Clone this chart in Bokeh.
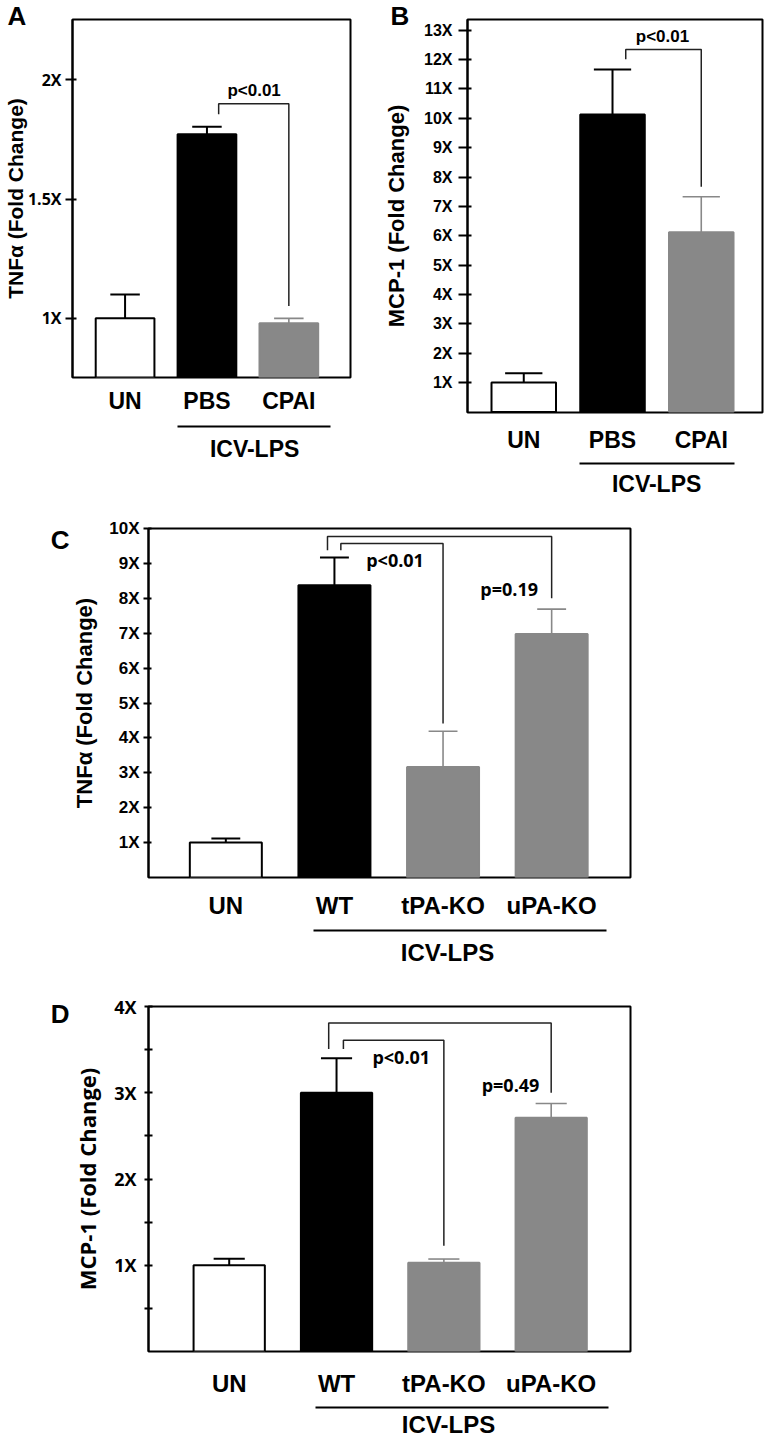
from bokeh.plotting import figure
from bokeh.models import Range1d, FixedTicker, LinearAxis, Title
from bokeh.layouts import column, row
from bokeh.embed import file_html
from bokeh.resources import INLINE
from bokeh.core.properties import value

ARIAL = "Liberation Sans"
HUM = "Open Sans"

# ---------------- data ----------------
# Panel A : TNFa fold change
a_categories = ["UN", "PBS", "CPAI"]
a_values = [1.0, 1.772, 0.979]
a_err_top = [1.10, 1.803, 1.0]
a_yticks = [1, 1.5, 2]
a_ytick_labels = ["1X", "1.5X", "2X"]
a_comparisons = [(2, 3)]                       # bar index pairs (1-based)
a_bracket_levels = [(1.90, 1.856, 1.052)]      # top, left leg end, right leg end
a_pvalues = ["p<0.01"]
a_pvalue_pos = [(2.576, 1.954)]

# Panel B : MCP-1 fold change
b_categories = ["UN", "PBS", "CPAI"]
b_values = [1.0, 10.13, 6.12]
b_err_top = [1.32, 11.66, 7.33]
b_yticks = list(range(1, 14))
b_ytick_labels = ["%dX" % t for t in b_yticks]
b_comparisons = [(2, 3)]
b_bracket_levels = [(12.34, 12.01, 7.67)]
b_pvalues = ["p<0.01"]
b_pvalue_pos = [(2.563, 12.80)]

# Panel C : TNFa fold change, knockouts
c_categories = ["UN", "WT", "tPA-KO", "uPA-KO"]
c_values = [1.0, 8.375, 3.165, 6.975]
c_err_top = [1.12, 9.17, 4.19, 7.69]
c_yticks = list(range(1, 11))
c_ytick_labels = ["%dX" % t for t in c_yticks]
c_comparisons = [(2, 4), (2, 3)]
c_bracket_levels = [(9.77, 9.38, 8.0), (9.57, 9.38, 4.41)]
c_pvalues = ["p<0.01", "p=0.19"]
c_pvalue_pos = [(2.558, 9.09), (3.609, 8.27)]

# Panel D : MCP-1 fold change, knockouts
d_categories = ["UN", "WT", "tPA-KO", "uPA-KO"]
d_values = [1.0, 3.0, 1.03, 2.71]
d_err_top = [1.075, 3.40, 1.072, 2.876]
d_yticks = [0.5, 1, 1.5, 2, 2.5, 3, 3.5, 4]
d_ytick_labels = ["", "1X", "", "2X", "", "3X", "", "4X"]
d_comparisons = [(2, 4), (2, 3)]
d_bracket_levels = [(3.81, 3.506, 3.0), (3.61, 3.506, 1.225)]
d_pvalues = ["p<0.01", "p=0.49"]
d_pvalue_pos = [(2.603, 3.417), (3.621, 3.092)]

GROUP_LABEL = "ICV-LPS"
GRAY = "#888888"


def build(d):
    n = len(d["cats"])
    xs = list(range(1, n + 1))
    p = figure(width=d["W"], height=d["H"],
               x_range=Range1d(*d["xr"]), y_range=Range1d(*d["yr"]),
               output_backend="svg", toolbar_location=None,
               min_border_left=d["mb"][0], min_border_right=d["mb"][1],
               min_border_top=d["mb"][2], min_border_bottom=d["mb"][3])
    p.grid.visible = False
    p.background_fill_color = "white"
    p.border_fill_color = "white"
    p.outline_line_color = "black"
    p.outline_line_width = 2
    p.outline_line_alpha = 1

    fills = ["white", "black"] + [GRAY] * (n - 2)
    lines = ["black", "black"] + [GRAY] * (n - 2)
    ecol = ["black", "black"] + [GRAY] * (n - 2)
    ewid = [2, 2] + [1.6] * (n - 2)

    p.vbar(x=xs, top=d["vals"], bottom=0, width=d["bw"],
           fill_color=fills, line_color=lines, line_width=2)
    # error bars
    p.segment(x0=xs, y0=d["vals"], x1=xs, y1=d["errs"], line_color=ecol, line_width=ewid)
    h = d["cap"]
    p.segment(x0=[x - h for x in xs], y0=d["errs"], x1=[x + h for x in xs], y1=d["errs"],
              line_color=ecol, line_width=ewid)
    # significance brackets
    bx, by = [], []
    for (i, j), (top, lb, rb), dx in zip(d["cmp"], d["lev"], d["bdx"]):
        xl = xs[i - 1] + dx
        xr = xs[j - 1]
        bx.append([xl, xl, xr, xr])
        by.append([lb, top, top, rb])
    p.multi_line(xs=bx, ys=by, line_color="#222222", line_width=1.5)
    p.text(x=[q[0] for q in d["ppos"]], y=[q[1] for q in d["ppos"]], text=d["pv"],
           text_font=value(d["pfont"]), text_font_size=value(d["psize"]),
           text_font_style="bold", text_align="center", text_baseline="middle",
           text_color="black")

    # y axis
    ya = p.yaxis[0]
    ya.ticker = FixedTicker(ticks=d["yt"])
    ya.major_label_overrides = dict(zip(d["yt"], d["ytl"]))
    ya.minor_tick_line_color = None
    ya.major_tick_in = d["tin"]
    ya.major_tick_out = d["tout"]
    ya.major_tick_line_width = 2
    ya.major_tick_line_color = "black"
    ya.axis_line_width = 2
    ya.axis_line_color = "black"
    ya.major_label_text_font = d["tfont"]
    ya.major_label_text_font_size = d["tsize"]
    ya.major_label_text_font_style = "bold"
    ya.major_label_text_color = "black"
    ya.major_label_standoff = d["tstand"]
    ya.axis_label = d["ytitle"]
    ya.axis_label_text_font = d["yfont"]
    ya.axis_label_text_font_size = d["ysize"]
    ya.axis_label_text_font_style = "bold"
    ya.axis_label_text_color = "black"
    ya.axis_label_standoff = d["ystand"]

    # x axis (category labels)
    xa = p.xaxis[0]
    xa.ticker = FixedTicker(ticks=xs)
    xa.major_label_overrides = dict(zip(xs, d["cats"]))
    xa.major_tick_line_color = None
    xa.minor_tick_line_color = None
    xa.major_tick_in = 0
    xa.major_tick_out = 0
    xa.axis_line_color = None
    xa.major_label_text_font = ARIAL
    xa.major_label_text_font_size = d["csize"]
    xa.major_label_text_font_style = "bold"
    xa.major_label_text_color = "black"
    xa.major_label_standoff = d["cstand"]
    xa.axis_label = " "
    xa.axis_label_text_font_size = "2px"
    xa.axis_label_standoff = d["pad"]

    # group underline + group label
    gx = d["gx"]
    ax2 = LinearAxis(ticker=FixedTicker(ticks=[gx]), bounds=d["under"],
                     major_label_overrides={gx: GROUP_LABEL},
                     axis_line_width=2, axis_line_color="black",
                     major_tick_line_color=None, minor_tick_line_color=None,
                     major_tick_in=0, major_tick_out=0,
                     major_label_standoff=d["gstand"],
                     major_label_text_font=ARIAL,
                     major_label_text_font_size=d["csize"],
                     major_label_text_font_style="bold",
                     major_label_text_color="black")
    p.add_layout(ax2, "below")

    # panel letter
    if d["letter_mode"] == "title":
        p.title = Title(text=d["letter"], align="left", offset=d["loff"],
                        standoff=-22, vertical_align="bottom",
                        text_font=ARIAL, text_font_size="26px",
                        text_font_style="bold", text_color="black")
    else:
        ly = d["ly"]
        lax = LinearAxis(ticker=FixedTicker(ticks=[ly]),
                         major_label_overrides={ly: d["letter"]},
                         axis_line_color=None, major_tick_line_color=None,
                         minor_tick_line_color=None, major_tick_in=0, major_tick_out=0,
                         major_label_standoff=0,
                         major_label_text_font=ARIAL, major_label_text_font_size="26px",
                         major_label_text_font_style="bold",
                         major_label_text_color="black")
        p.add_layout(lax, "left")
    return p


pA = build(dict(cats=a_categories, vals=a_values, errs=a_err_top, yt=a_yticks, ytl=a_ytick_labels,
                cmp=a_comparisons, lev=a_bracket_levels, pv=a_pvalues, ppos=a_pvalue_pos,
                W=372, H=466, xr=(0.358, 3.753), yr=(0.752, 2.253), mb=(66, 22, 19, 89),
                bw=0.717, cap=0.18, bdx=[0.143],
                pfont=ARIAL, psize="17px",
                tin=4, tout=7, tfont=HUM, tsize="16px", tstand=4,
                ytitle="TNFα (Fold Change)", yfont=ARIAL, ysize="21px", ystand=-2,
                csize="23px", cstand=10, pad=5,
                under=(1.646, 3.506), gx=2.582, gstand=9,
                letter_mode="title", letter="A", loff=-65))

pB = build(dict(cats=b_categories, vals=b_values, errs=b_err_top, yt=b_yticks, ytl=b_ytick_labels,
                cmp=b_comparisons, lev=b_bracket_levels, pv=b_pvalues, ppos=b_pvalue_pos,
                W=394, H=501, xr=(0.366, 3.690), yr=(-0.02, 13.364), mb=(95, 4, 19, 89),
                bw=0.727, cap=0.21, bdx=[0.149],
                pfont=ARIAL, psize="17px",
                tin=4, tout=9, tfont=ARIAL, tsize="16px", tstand=6,
                ytitle="MCP-1 (Fold Change)", yfont=ARIAL, ysize="22px", ystand=12,
                csize="23px", cstand=14, pad=3,
                under=(1.623, 3.370), gx=2.497, gstand=7,
                letter_mode="title", letter="B", loff=-77))

pC = build(dict(cats=c_categories, vals=c_values, errs=c_err_top, yt=c_yticks, ytl=c_ytick_labels,
                cmp=c_comparisons, lev=c_bracket_levels, pv=c_pvalues, ppos=c_pvalue_pos,
                W=758, H=467, xr=(0.288, 4.726), yr=(0, 10), mb=(148, 128, 27, 84),
                bw=0.663, cap=0.133, bdx=[-0.064, 0.059],
                pfont=HUM, psize="18px",
                tin=3, tout=5, tfont=ARIAL, tsize="17px", tstand=4,
                ytitle="TNFα (Fold Change)", yfont=ARIAL, ysize="22px", ystand=9,
                csize="24px", cstand=14, pad=4,
                under=(1.805, 4.505), gx=3.041, gstand=8,
                letter_mode="axis", letter="C", ly=9.677))

pD = build(dict(cats=d_categories, vals=d_values, errs=d_err_top, yt=d_yticks, ytl=d_ytick_labels,
                cmp=d_comparisons, lev=d_bracket_levels, pv=d_pvalues, ppos=d_pvalue_pos,
                W=758, H=472, xr=(0.248, 4.739), yr=(0, 4), mb=(148, 128, 38, 80),
                bw=0.664, cap=0.145, bdx=[-0.073, 0.064],
                pfont=HUM, psize="18px",
                tin=4, tout=4, tfont=HUM, tsize="18px", tstand=8,
                ytitle="MCP-1 (Fold Change)", yfont=HUM, ysize="22px", ystand=9,
                csize="24px", cstand=18, pad=3,
                under=(1.805, 4.535), gx=3.043, gstand=3,
                letter_mode="axis", letter="D", ly=3.913))

layout = column(row(pA, pB), pC, pD)
open("out.html", "w").write(file_html(layout, INLINE))
